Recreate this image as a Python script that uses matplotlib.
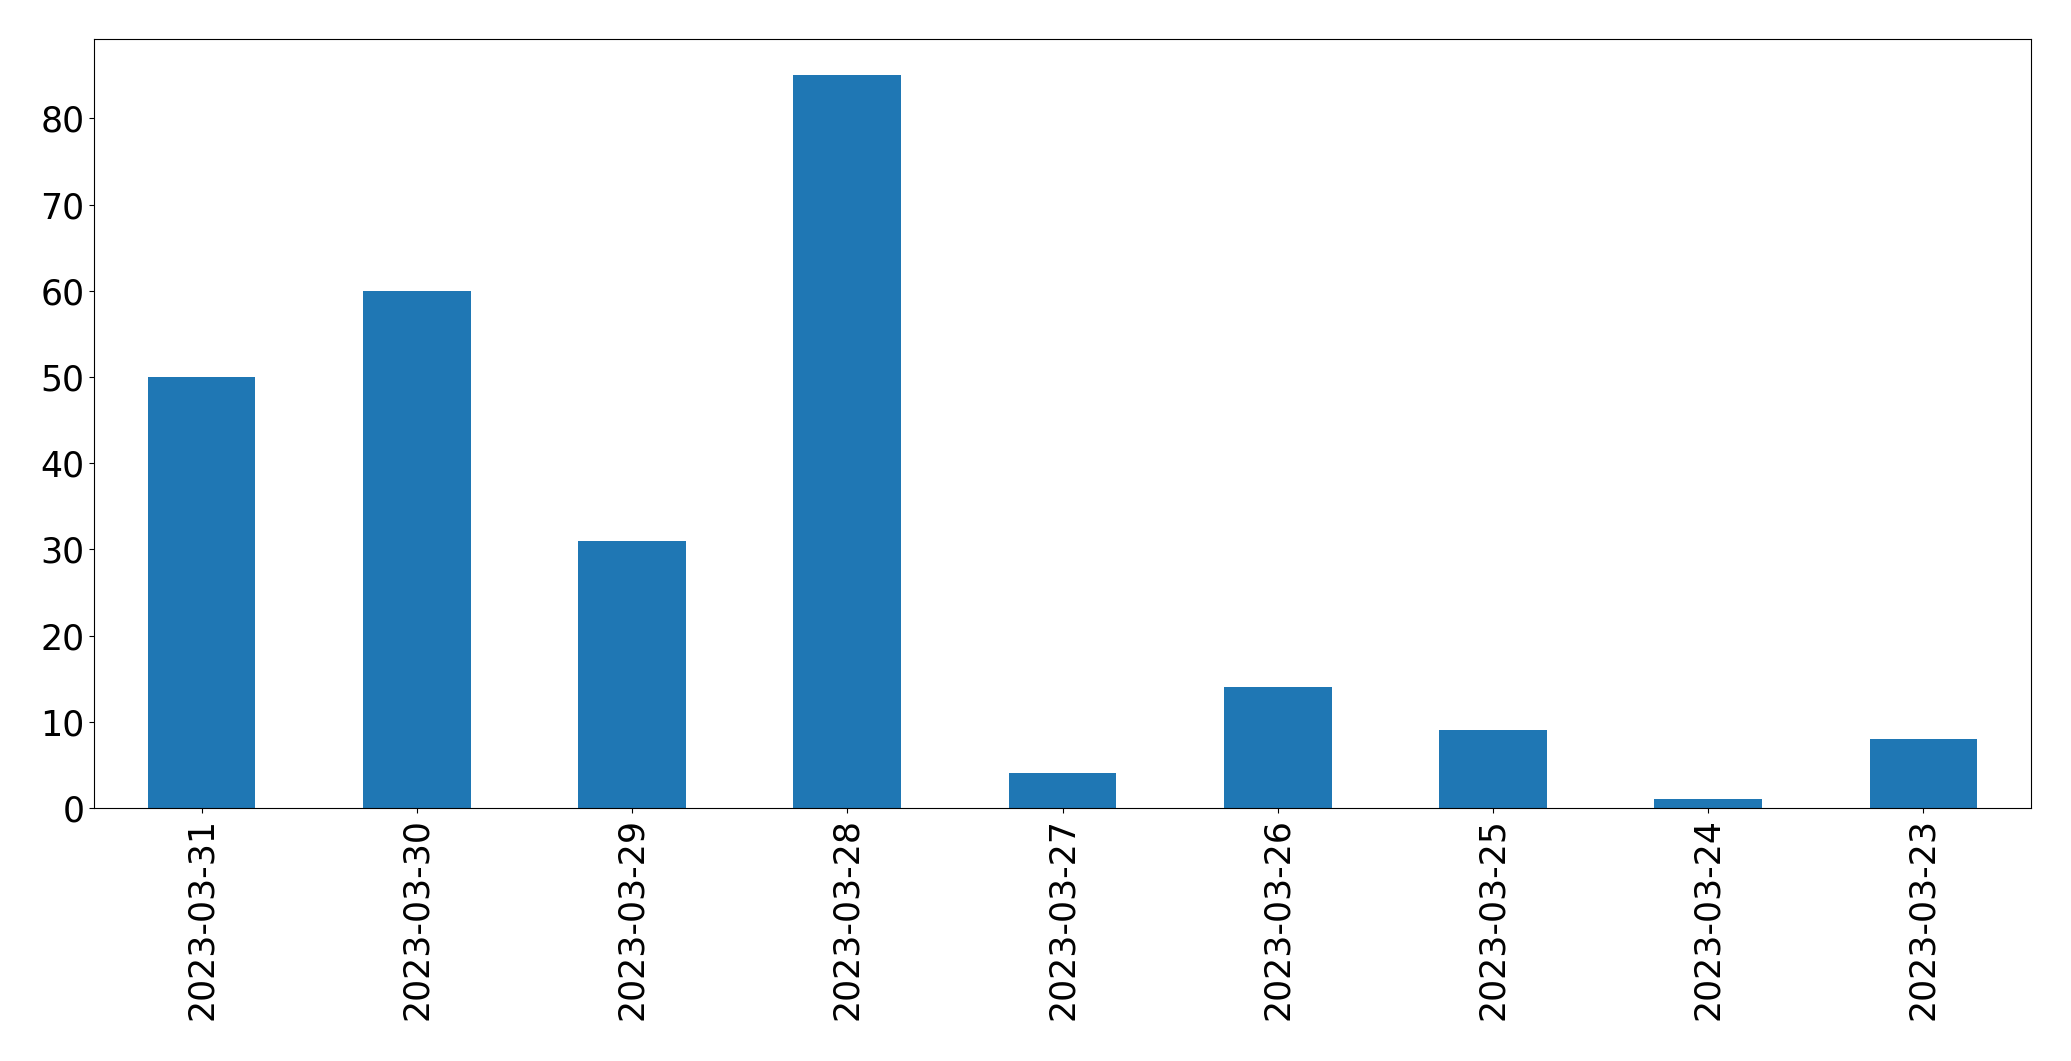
import matplotlib
matplotlib.use("Agg")
import matplotlib.pyplot as plt
import pandas as pd

dates = ["2023-03-31", "2023-03-30", "2023-03-29", "2023-03-28", "2023-03-27",
         "2023-03-26", "2023-03-25", "2023-03-24", "2023-03-23"]
counts = [50, 60, 31, 85, 4, 14, 9, 1, 8]

s = pd.Series(counts, index=dates)

fig = plt.figure(figsize=(20.71, 10.61), dpi=100)
ax = fig.add_axes([0.0454, 0.2385, 0.9353, 0.7250])
s.plot(kind="bar", ax=ax, color="#1f77b4")
ax.tick_params(axis="both", labelsize=25)
fig.savefig("out.png", dpi=100)
